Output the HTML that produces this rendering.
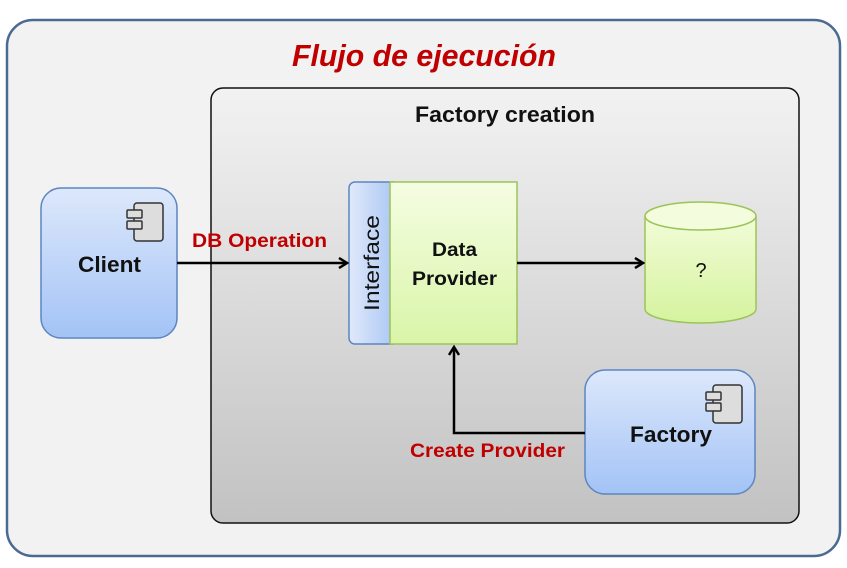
<!DOCTYPE html>
<html><head><style>html,body{margin:0;padding:0;background:#fff}svg{display:block}</style></head>
<body>
<svg width="847" height="568" viewBox="0 0 847 568" xmlns="http://www.w3.org/2000/svg" font-family="'Liberation Sans', sans-serif">
<defs>
<linearGradient id="g1" x1="0" y1="0" x2="0" y2="1"><stop offset="0" stop-color="#f2f2f2"/><stop offset="1" stop-color="#c2c2c2"/></linearGradient>
<linearGradient id="gb" x1="0" y1="0" x2="0" y2="1"><stop offset="0" stop-color="#dde8fb"/><stop offset="1" stop-color="#a3c3f6"/></linearGradient>
<linearGradient id="gi" x1="0" y1="0" x2="1" y2="0"><stop offset="0" stop-color="#e0e9fb"/><stop offset="1" stop-color="#a6c4f3"/></linearGradient>
<linearGradient id="gg" x1="0" y1="0" x2="0" y2="1"><stop offset="0" stop-color="#f5fde2"/><stop offset="1" stop-color="#d9f5a8"/></linearGradient>
<linearGradient id="gc" x1="0" y1="0" x2="0" y2="1"><stop offset="0" stop-color="#f2fcd8"/><stop offset="1" stop-color="#d5f39e"/></linearGradient>
<marker id="ar" markerWidth="12" markerHeight="12" refX="10" refY="6" orient="auto" markerUnits="userSpaceOnUse"><path d="M2,1 L10,6 L2,11" fill="none" stroke="#000" stroke-width="2.5"/></marker>
</defs>
<rect x="7" y="20" width="833" height="536" rx="26" fill="#f2f2f2" stroke="#4a6a92" stroke-width="2.5"/>
<text x="292" y="66" textLength="264" lengthAdjust="spacingAndGlyphs" font-size="31" font-weight="bold" font-style="italic" fill="#c00000">Flujo de ejecución</text>
<rect x="211" y="88" width="588" height="435" rx="12" fill="url(#g1)" stroke="#111" stroke-width="1.5"/>
<text x="415" y="122" textLength="180" lengthAdjust="spacingAndGlyphs" font-size="22" font-weight="bold" fill="#111">Factory creation</text>
<!-- client -->
<rect x="41" y="188" width="136" height="150" rx="20" fill="url(#gb)" stroke="#5d85bf" stroke-width="1.5"/>
<g stroke="#333" stroke-width="1.5" fill="#ddd"><rect x="134" y="203" width="29" height="38" rx="3"/><rect x="127" y="210" width="15" height="8" rx="1"/><rect x="127" y="221" width="15" height="8" rx="1"/></g>
<text x="78" y="272" textLength="63" lengthAdjust="spacingAndGlyphs" font-size="22" font-weight="bold" fill="#111">Client</text>
<!-- interface / provider -->
<rect x="349" y="182" width="50" height="162" rx="6" fill="url(#gi)" stroke="#5d85bf" stroke-width="1.5"/>
<rect x="390" y="182" width="127" height="162" fill="url(#gg)" stroke="#9cc35a" stroke-width="1.5"/>
<text transform="translate(379,311) rotate(-90)" textLength="96" lengthAdjust="spacingAndGlyphs" font-size="21" fill="#111">Interface</text>
<text x="432" y="256" textLength="45" lengthAdjust="spacingAndGlyphs" font-size="19" font-weight="bold" fill="#111">Data</text>
<text x="412" y="285" textLength="85" lengthAdjust="spacingAndGlyphs" font-size="19" font-weight="bold" fill="#111">Provider</text>
<!-- cylinder -->
<path d="M645,216 L645,309 A55.5,14 0 0 0 756,309 L756,216" fill="url(#gc)" stroke="#9cc35a" stroke-width="1.5"/>
<ellipse cx="700.5" cy="216" rx="55.5" ry="14" fill="#f3fcdc" stroke="#9cc35a" stroke-width="1.5"/>
<text x="701" y="277" text-anchor="middle" font-size="20" fill="#111">?</text>
<!-- factory -->
<rect x="585" y="370" width="170" height="124" rx="20" fill="url(#gb)" stroke="#5d85bf" stroke-width="1.5"/>
<g stroke="#333" stroke-width="1.5" fill="#ddd"><rect x="713" y="385" width="29" height="38" rx="3"/><rect x="706" y="392" width="15" height="8" rx="1"/><rect x="706" y="403" width="15" height="8" rx="1"/></g>
<text x="630" y="442" textLength="82" lengthAdjust="spacingAndGlyphs" font-size="22" font-weight="bold" fill="#111">Factory</text>
<!-- arrows -->
<line x1="177" y1="263" x2="347" y2="263" stroke="#000" stroke-width="2.5" marker-end="url(#ar)"/>
<line x1="517" y1="263" x2="643" y2="263" stroke="#000" stroke-width="2.5" marker-end="url(#ar)"/>
<polyline points="585,433 454,433 454,347" fill="none" stroke="#000" stroke-width="2.5" marker-end="url(#ar)"/>
<text x="192" y="247" textLength="135" lengthAdjust="spacingAndGlyphs" font-size="19" font-weight="bold" fill="#c00000">DB Operation</text>
<text x="410" y="457" textLength="155" lengthAdjust="spacingAndGlyphs" font-size="19" font-weight="bold" fill="#c00000">Create Provider</text>
</svg>
</body></html>
